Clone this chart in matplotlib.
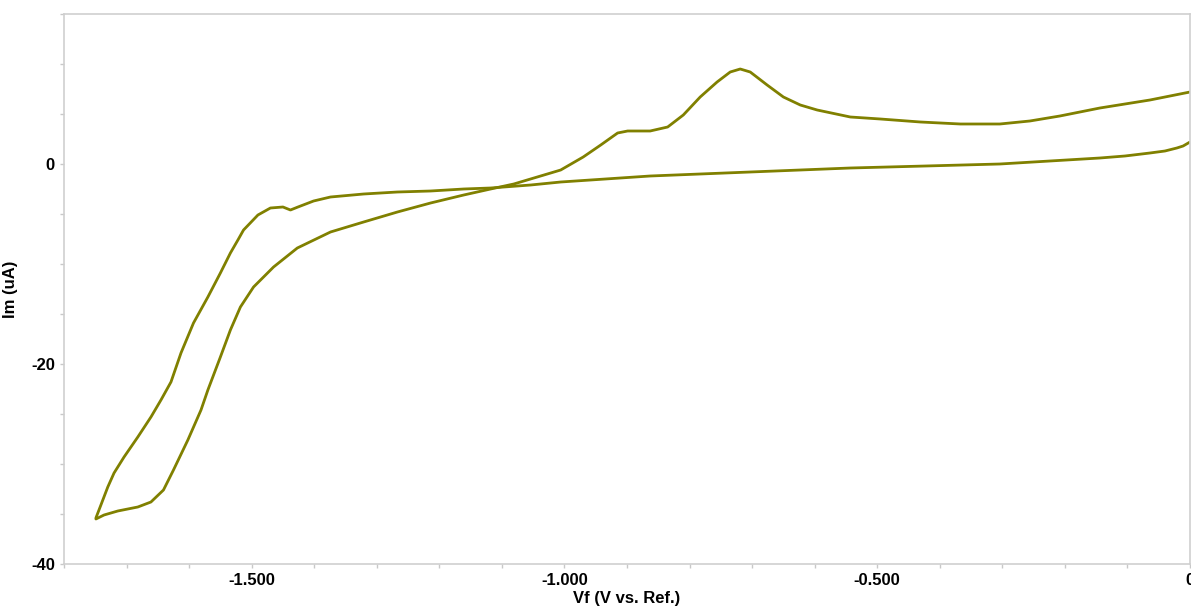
import numpy as np
import matplotlib.pyplot as plt
from matplotlib.ticker import MultipleLocator, FuncFormatter

plt.rcParams['font.family'] = ['Liberation Sans', 'DejaVu Sans']

# cathodic sweep, 0 V -> -1.75 V
v_cath = [0.000, -0.011, -0.021, -0.040, -0.064, -0.104, -0.144, -0.224, -0.304,
          -0.423, -0.543, -0.703, -0.863, -1.006, -1.054, -1.118, -1.161, -1.214,
          -1.267, -1.321, -1.374, -1.401, -1.426, -1.438, -1.450, -1.470, -1.490,
          -1.513, -1.522, -1.534, -1.550, -1.570, -1.593, -1.613, -1.629, -1.645,
          -1.661, -1.682, -1.704, -1.720, -1.730, -1.741, -1.749]
i_cath = [2.2, 1.8, 1.6, 1.3, 1.1, 0.8, 0.6, 0.3, 0.0,
          -0.2, -0.4, -0.8, -1.2, -1.8, -2.1, -2.4, -2.5, -2.7,
          -2.8, -3.0, -3.3, -3.7, -4.3, -4.6, -4.3, -4.4, -5.1,
          -6.6, -7.6, -8.9, -10.9, -13.3, -15.9, -18.9, -21.8, -23.6,
          -25.3, -27.3, -29.3, -30.9, -32.3, -34.1, -35.4]

# anodic sweep, -1.75 V -> 0 V
v_anod = [-1.749, -1.736, -1.714, -1.682, -1.661, -1.641, -1.625, -1.602, -1.581,
          -1.570, -1.550, -1.534, -1.518, -1.497, -1.465, -1.427, -1.374, -1.321,
          -1.267, -1.214, -1.161, -1.118, -1.081, -1.022, -1.006, -0.970, -0.942,
          -0.915, -0.899, -0.863, -0.835, -0.810, -0.783, -0.756, -0.735, -0.719,
          -0.703, -0.676, -0.650, -0.623, -0.596, -0.543, -0.495, -0.431, -0.367,
          -0.304, -0.256, -0.208, -0.144, -0.064, 0.000]
i_anod = [-35.5, -35.1, -34.7, -34.3, -33.8, -32.6, -30.6, -27.6, -24.6,
          -22.6, -19.3, -16.6, -14.3, -12.3, -10.3, -8.4, -6.8, -5.8,
          -4.8, -3.9, -3.1, -2.5, -2.0, -0.9, -0.6, 0.7, 1.9,
          3.1, 3.3, 3.3, 3.7, 4.9, 6.7, 8.2, 9.2, 9.5,
          9.2, 7.9, 6.7, 5.9, 5.4, 4.7, 4.5, 4.2, 4.0,
          4.0, 4.3, 4.8, 5.6, 6.4, 7.2]

fig = plt.figure(figsize=(11.91, 6.12), dpi=100)
ax = fig.add_axes([64/1191, 48/612, 1126/1191, 550/612])

col = '#808000'
ax.plot(v_cath, i_cath, color=col, lw=2.0, solid_joinstyle='round', solid_capstyle='round')
ax.plot(v_anod, i_anod, color=col, lw=2.0, solid_joinstyle='round', solid_capstyle='round')

ax.set_xlim(-1.8, 0)
ax.set_ylim(-40, 15)
ax.xaxis.set_major_locator(MultipleLocator(0.5))
ax.xaxis.set_minor_locator(MultipleLocator(0.1))
ax.yaxis.set_major_locator(MultipleLocator(20))
ax.yaxis.set_minor_locator(MultipleLocator(5))
ax.xaxis.set_major_formatter(FuncFormatter(lambda v, p: '0' if abs(v) < 1e-9 else '%.3f' % v))
ax.yaxis.set_major_formatter(FuncFormatter(lambda v, p: '%d' % v))

for s in ax.spines.values():
    s.set_color('#cfcfcf')
    s.set_linewidth(1.2)
ax.tick_params(which='both', color='#c8c8c8', length=3, width=1)
ax.tick_params(labelsize=12)
for lb in ax.get_xticklabels() + ax.get_yticklabels():
    lb.set_fontweight('bold')

ax.set_xlabel('Vf (V vs. Ref.)', fontsize=12, fontweight='bold', labelpad=2)
ax.set_ylabel('Im (uA)', fontsize=12, fontweight='bold')
ax.yaxis.set_label_coords(-0.041, 0.5)

fig.savefig('out.png', dpi=100)
